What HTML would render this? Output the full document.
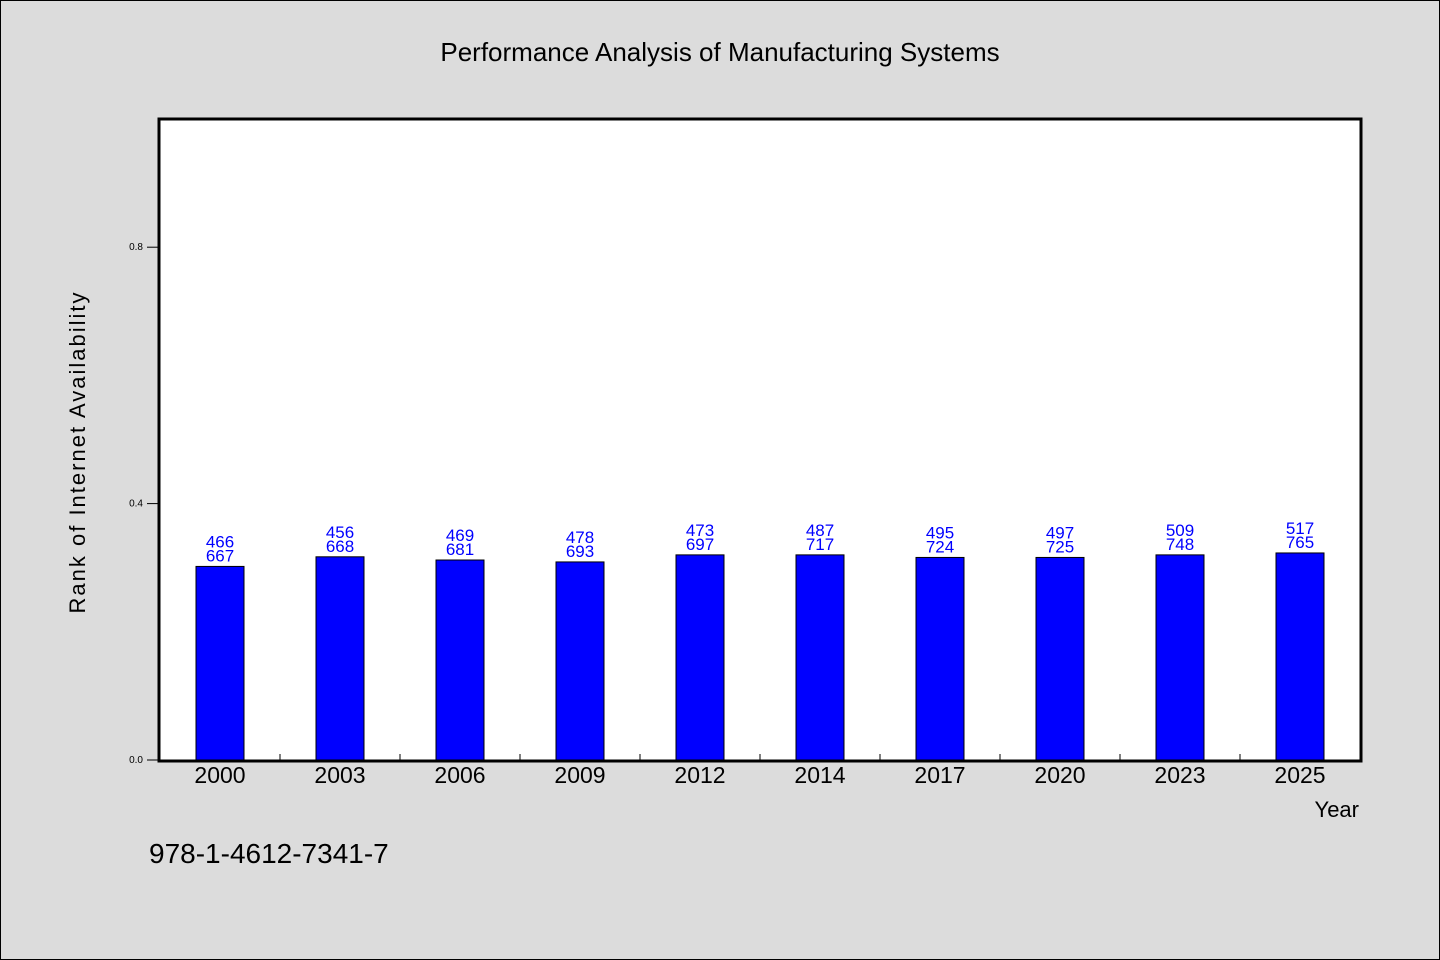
<!DOCTYPE html>
<html><head><meta charset="utf-8"><style>
html,body{margin:0;padding:0;background:#dcdcdc;}
svg{display:block;font-family:"WenQuanYi Zen Hei","Liberation Sans",sans-serif;}
</style></head><body>
<svg id="chart" width="1440" height="960" viewBox="0 0 1440 960">
<rect x="0.5" y="0.5" width="1439" height="959" fill="#dcdcdc" stroke="#000" stroke-width="1"/>
<text x="720" y="61" text-anchor="middle" font-size="26" fill="#000">Performance Analysis of Manufacturing Systems</text>
<rect x="159" y="119" width="1202" height="642" fill="#fff" stroke="#000" stroke-width="3"/>
<g id="bars"></g>
<g id="axes"></g>
<text transform="translate(85,452) rotate(-90)" text-anchor="middle" font-size="22" fill="#000" letter-spacing="2">Rank of Internet Availability</text>
<text x="1359" y="817" text-anchor="end" font-size="22" fill="#000">Year</text>
<text x="149" y="863" font-size="28" fill="#000">978-1-4612-7341-7</text>
</svg>
<script>
const categories=["2000","2003","2006","2009","2012","2014","2017","2020","2023","2025"];
const values=[0.302,0.317,0.312,0.309,0.320,0.320,0.316,0.316,0.320,0.323];
const labelTop=["466","456","469","478","473","487","495","497","509","517"];
const labelBottom=["667","668","681","693","697","717","724","725","748","765"];
const yTicks=[0.0,0.4,0.8];
const yTickLabels=["0.0","0.4","0.8"];
const NS="http://www.w3.org/2000/svg";
const x0=159,band=120,y0=760,yMax=1.0,plotH=641;
function y(v){return y0-v/yMax*plotH;}
function xc(i){return x0+band*i+61;}
function mk(t,a,p){const e=document.createElementNS(NS,t);for(const k in a)e.setAttribute(k,a[k]);p.appendChild(e);return e;}
const bars=document.getElementById('bars'),axes=document.getElementById('axes');
categories.forEach((c,i)=>{
 const r=mk('rect',{x:xc(i)-24,y:y(values[i]),width:48,height:y0-y(values[i]),fill:'#0000ff',stroke:'#000','stroke-width':1},bars);
 
 
 const t1=mk('text',{x:xc(i),y:y(values[i])-19,'text-anchor':'middle','font-size':17,fill:'#0000ff'},bars);
 t1.textContent=labelTop[i];
 
 
 const t2=mk('text',{x:xc(i),y:y(values[i])-5,'text-anchor':'middle','font-size':17,fill:'#0000ff'},bars);
 t2.textContent=labelBottom[i];
 
 
 const xl=mk('text',{x:xc(i),y:783,'text-anchor':'middle','font-size':23,fill:'#000'},axes);
 xl.textContent=c;
 
 
 if(i>0){const tk=mk('line',{x1:x0+band*i+1,x2:x0+band*i+1,y1:761,y2:754,stroke:'#000','stroke-width':1},axes);
 
 }
});
yTicks.forEach((v,i)=>{
 const tk=mk('line',{x1:147,x2:159,y1:y(v),y2:y(v),stroke:'#000','stroke-width':1},axes);
 
 
 const tl=mk('text',{x:143,y:y(v)+3,'text-anchor':'end','font-size':10,fill:'#000'},axes);
 tl.textContent=yTickLabels[i];
 
 
});
</script>
</body></html>
